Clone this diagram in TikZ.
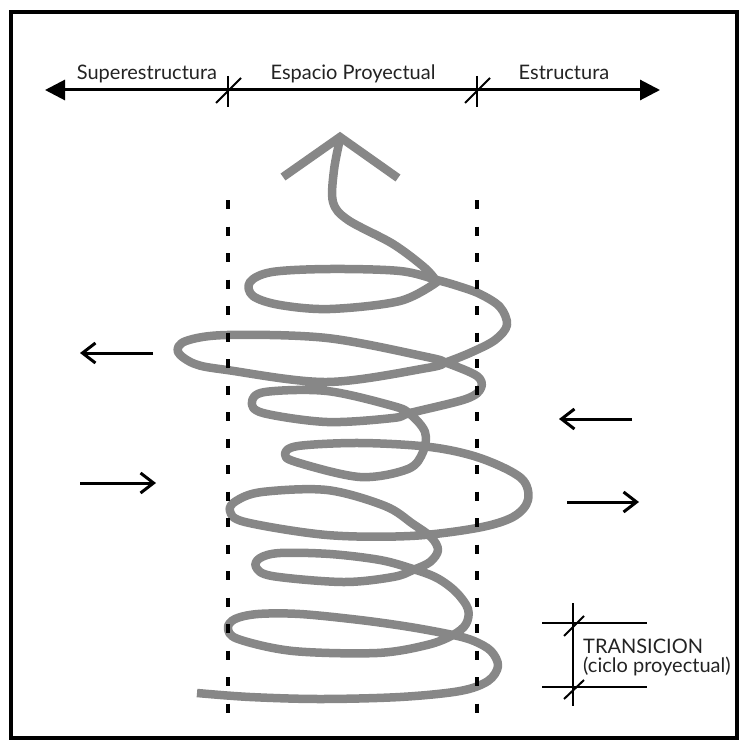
\documentclass[tikz,border=0pt]{standalone}
\usepackage{fontspec}
\setmainfont{Lato}
\usetikzlibrary{arrows.meta}
\definecolor{coilgray}{RGB}{135,135,135}
\definecolor{inkgray}{RGB}{35,35,35}

\begin{document}
\begin{tikzpicture}[x=1pt,y=-1pt,
    txt/.style={inner sep=0pt,text=inkgray,font=\fontsize{20}{24}\selectfont},
    scaleline/.style={line width=3pt,{Triangle[length=20pt,width=20pt]}-{Triangle[length=20pt,width=20pt]}},
    tick/.style={line width=2pt},
    coil/.style={coilgray,line width=8.5pt,line join=round},
    guide/.style={line width=4.5pt,dash pattern=on 9pt off 17.5pt},
    push/.style={line width=3pt,-{Straight Barb[length=13pt,width=20pt]}}]
    \useasboundingbox (0,0) rectangle (747,749);

    % Frame
    \draw[line width=4pt] (11,12) rectangle (737,738);

    % Top scale
    \coordinate (sl) at (45,90);
    \coordinate (sr) at (660,90);
    \draw[scaleline] (sl) -- (sr);
    \foreach \tx in {228,477} {
        \draw[tick] (\tx,76) -- (\tx,107);
        \draw[tick] (\tx-12,103) -- (\tx+13,78);
    }
    \node[txt,anchor=base] (super) at (147,80) {Superestructura};
    \node[txt,anchor=base] (espacio) at (353,80) {Espacio Proyectual};
    \node[txt,anchor=base] (estruct) at (564,80) {Estructura};

    % Spiral
    \draw[coil] plot[smooth,tension=0.55] coordinates {
        (197,693) (250,697) (320,699) (400,697) (460,691) (488,681) (498,666) (491,651) (474,641) (453,635)
        (410,627) (360,620) (300,614) (258,614) (235,619) (228,628)
        (238,639) (293,651) (377,653) (427,645) (453,635)
        (466,624) (468,609) (456,592) (437,578) (413,569)
        (380,560) (330,554) (280,553) (260,558) (256,567)
        (272,576) (343,582) (393,577) (413,570)
        (430,562) (438,550) (431,537) (413,524) (385,506)
        (327,490) (262,492) (236,501) (230,511)
        (245,522) (327,535) (410,536) (477,528) (513,517) (528,500)
        (521,478) (480,458) (430,447)
        (360,443) (298,446) (285,454)
        (296,462) (360,477) (408,469) (423,452) (425,432) (410,414)
        (393,406) (327,391) (265,392) (252,402)
        (263,413) (327,422) (393,418) (410,413)
        (466,399) (481,388) (477,376) (447,363)
        (427,357) (327,338) (227,335) (186,341) (178,352)
        (195,364) (227,370) (327,382) (427,368) (447,362)
        (472,352) (495,340) (507,325) (500,307) (480,294) (458,286) (437,280)
        (400,271) (330,269) (272,272) (250,282)
        (253,296) (280,305) (330,309) (400,301) (437,282)}
        -- plot[smooth,tension=0.55] coordinates {
        (437,282) (425,268) (393,244) (348,220) (333,202) (334,170) (340,139)};
    \draw[coil,line join=miter] (283,177) -- (340,137) -- (398,178);

    % Dashed limits
    \foreach \dx in {228,477}
        \draw[guide] (\dx,200) -- (\dx,722);

    % Side arrows
    \coordinate (la1s) at (153,353);
    \coordinate (la1e) at (80,353);
    \coordinate (la2s) at (80,483);
    \coordinate (la2e) at (156,483);
    \coordinate (ra1s) at (632,419);
    \coordinate (ra1e) at (559,419);
    \coordinate (ra2s) at (567,502);
    \coordinate (ra2e) at (639,502);
    \draw[push] (la1s) -- (la1e);
    \draw[push] (la2s) -- (la2e);
    \draw[push] (ra1s) -- (ra1e);
    \draw[push] (ra2s) -- (ra2e);

    % Transition
    \draw[tick] (542,623) -- (647,623);
    \draw[tick] (542,687) -- (647,687);
    \draw[tick] (573,603) -- (573,706);
    \draw[tick] (564,636) -- (584,616);
    \draw[tick] (564,699) -- (584,680);
    \node[txt,anchor=base west] (trans) at (583,653) {TRANSICION};
    \node[txt,anchor=base west] (ciclo) at (583,672) {(ciclo proyectual)};

\end{tikzpicture}
\end{document}
